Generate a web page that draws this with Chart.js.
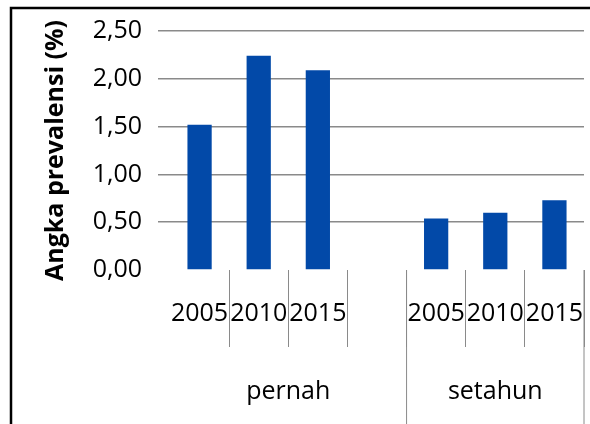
<!DOCTYPE html>
<html>
<head>
<meta charset="utf-8">
<script src="https://cdn.jsdelivr.net/npm/chart.js@4/dist/chart.umd.min.js"></script>
<style>
  html, body { margin: 0; padding: 0; background: #fff; }
  canvas { display: block; }
</style>
</head>
<body>
<canvas id="chart" width="590" height="424"></canvas>
<script>
// data
const years = ['2005', '2010', '2015'];
const groupNames = ['pernah', 'setahun'];
const groupSpans = [4, 3];            // pernah also owns the empty gap slot
const pernahValues = [1.52, 2.24, 2.09];
const setahunValues = [0.54, 0.60, 0.73];
const yTicks = [0, 0.5, 1, 1.5, 2, 2.5];

const labels = [...years, '', ...years];
const values = [...pernahValues, null, ...setahunValues];

const FONT = "'Open Sans', 'Noto Sans', sans-serif";
const GRID = '#8a8a8a';

// group labels and long separators under the category axis, plus the frame
const groupPlugin = {
  id: 'groups',
  afterDraw(chart) {
    const ctx = chart.ctx;
    const x = chart.scales.x;
    const half = (x.getPixelForValue(1) - x.getPixelForValue(0)) / 2;
    const top = chart.chartArea.bottom;
    ctx.save();
    ctx.strokeStyle = GRID;
    ctx.lineWidth = 1;
    ctx.fillStyle = '#000';
    ctx.font = '25px ' + FONT;
    ctx.textAlign = 'center';
    ctx.textBaseline = 'middle';
    let start = 0;
    groupNames.forEach((name, g) => {
      const end = start + groupSpans[g];
      const x0 = x.getPixelForValue(start) - half;
      const x1 = x.getPixelForValue(end - 1) + half;
      ctx.beginPath();
      ctx.moveTo(x1, top);
      ctx.lineTo(x1, chart.height);
      ctx.stroke();
      ctx.fillText(name, (x0 + x1) / 2, 392);
      start = end;
    });
    // outer frame
    ctx.strokeStyle = '#000';
    ctx.lineWidth = 2.5;
    ctx.strokeRect(11, 8, 700, 600);
    ctx.restore();
  }
};

new Chart(document.getElementById('chart'), {
  type: 'bar',
  data: {
    labels: labels,
    datasets: [{
      data: values,
      backgroundColor: '#0249a8',
      borderWidth: 0,
      categoryPercentage: 1,
      barPercentage: 0.41
    }]
  },
  options: {
    responsive: false,
    animation: false,
    layout: { padding: { top: 30, right: 6, left: 0, bottom: 0 } },
    plugins: {
      legend: { display: false },
      tooltip: { enabled: false }
    },
    scales: {
      x: {
        border: { display: false },
        grid: {
          offset: true,
          drawOnChartArea: false,
          tickLength: 77,
          lineWidth: 1,
          color: (c) => (c.index === 0 ? 'rgba(0,0,0,0)' : GRID)
        },
        ticks: {
          padding: -48,
          color: '#000',
          maxRotation: 0,
          autoSkip: false,
          font: { family: FONT, size: 25 }
        },
        afterFit: (s) => { s.height = 154; }
      },
      y: {
        min: 0,
        max: 2.5,
        border: { display: false },
        afterBuildTicks: (s) => { s.ticks = yTicks.map((v) => ({ value: v })); },
        grid: {
          tickLength: 12,
          lineWidth: 1.5,
          color: (c) => (c.tick && c.tick.value === 0 ? 'rgba(0,0,0,0)' : GRID)
        },
        ticks: {
          padding: 16,
          color: '#000',
          font: { family: FONT, size: 25 },
          callback: (v) => v.toFixed(2).replace('.', ',')
        },
        title: {
          display: true,
          text: 'Angka prevalensi (%)',
          color: '#000',
          padding: { top: 41, bottom: 0 },
          font: { family: FONT, size: 25, weight: 'bold' }
        },
        afterFit: (s) => { s.width = 170; }
      }
    }
  },
  plugins: [groupPlugin]
});
</script>
</body>
</html>
